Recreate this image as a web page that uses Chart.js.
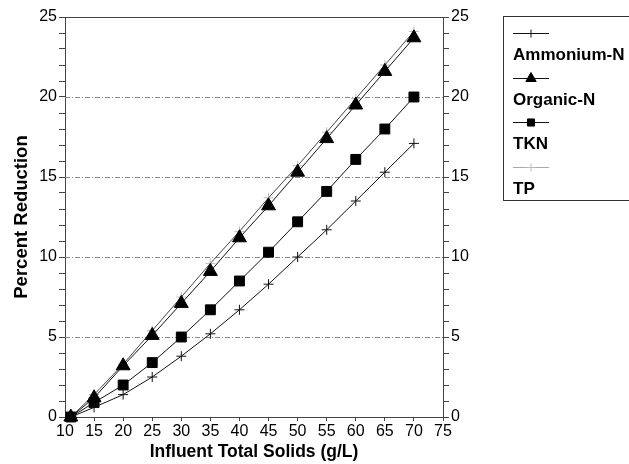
<!DOCTYPE html>
<html>
<head>
<meta charset="utf-8">
<script src="https://cdn.jsdelivr.net/npm/chart.js@4.4.0/dist/chart.umd.min.js"></script>
<style>
    html, body { margin: 0; padding: 0; background: #fff; }
    #wrap { width: 629px; height: 464px; position: relative; }
</style>
</head>
<body>
<div id="wrap"><canvas id="chart" width="629" height="464"></canvas></div>
<script>
// Data
const solids = [11, 15, 20, 25, 30, 35, 40, 45, 50, 55, 60, 65, 70];
const ammoniumN = [0, 0.6, 1.4, 2.5, 3.8, 5.2, 6.7, 8.3, 10.0, 11.7, 13.5, 15.3, 17.1];
const organicN = [0, 1.2, 3.2, 5.1, 7.1, 9.1, 11.2, 13.2, 15.3, 17.4, 19.5, 21.6, 23.7];
const tkn = [0, 0.9, 2.0, 3.4, 5.0, 6.7, 8.5, 10.3, 12.2, 14.1, 16.1, 18.0, 20.0];
const tp = [0, 1.4, 3.3, 5.4, 7.5, 9.6, 11.6, 13.7, 15.7, 17.8, 19.9, 22.0, 24.1];
const seriesNames = ['Ammonium-N', 'Organic-N', 'TKN', 'TP'];
const gridValues = [5, 10, 15, 20];

const FONT = '"Liberation Sans", Arial, Helvetica, sans-serif';

function toPoints(values) {
    return solids.map((x, i) => ({ x: x, y: values[i] }));
}

// Series styles
const series = [
    { data: ammoniumN, color: '#111', pointStyle: 'cross', radius: 5, markerColor: '#111', legendLine: '#111' },
    { data: organicN, color: '#111', pointStyle: 'triangle', radius: 8, markerColor: '#000', legendLine: '#111' },
    { data: tkn, color: '#111', pointStyle: 'rect', radius: 7, markerColor: '#000', legendLine: '#111' },
    { data: tp, color: '#444', pointStyle: 'cross', radius: 5, markerColor: '#bbb', legendLine: '#aaa' }
];

const datasets = series.map((s, i) => ({
    label: seriesNames[i],
    data: toPoints(s.data),
    borderColor: s.color,
    borderWidth: 1,
    backgroundColor: s.markerColor,
    pointBorderColor: s.markerColor,
    pointBackgroundColor: s.markerColor,
    pointStyle: s.pointStyle,
    pointRadius: s.radius,
    pointBorderWidth: 1,
    tension: 0,
    clip: false
}));

// dashed gridlines at 5,10,15,20 and the top border
const frame = {
    id: 'frame',
    beforeDatasetsDraw(chart) {
        const { ctx, chartArea, scales } = chart;
        ctx.save();
        ctx.strokeStyle = '#888';
        ctx.lineWidth = 1;
        ctx.setLineDash([5, 2, 1, 2]);
        gridValues.forEach(v => {
            const y = Math.round(scales.y.getPixelForValue(v)) + 0.5;
            ctx.beginPath();
            ctx.moveTo(chartArea.left, y);
            ctx.lineTo(chartArea.right, y);
            ctx.stroke();
        });
        ctx.setLineDash([]);
        ctx.strokeStyle = '#444';
        const top = Math.round(chartArea.top) + 0.5;
        ctx.beginPath();
        ctx.moveTo(chartArea.left, top);
        ctx.lineTo(chartArea.right, top);
        ctx.stroke();
        ctx.restore();
    }
};

// legend: sample line above each label, inside a box
const boxLegend = {
    id: 'boxLegend',
    afterDraw(chart) {
        const { ctx } = chart;
        ctx.save();
        ctx.strokeStyle = '#333';
        ctx.lineWidth = 1;
        ctx.strokeRect(503.5, 16.5, 130, 184);
        chart.data.datasets.forEach((ds, i) => {
            const ly = Math.round(33 + i * 44.7) + 0.5;
            ctx.strokeStyle = series[i].legendLine;
            ctx.beginPath();
            ctx.moveTo(513, ly);
            ctx.lineTo(549, ly);
            ctx.stroke();
            const opts = {
                pointStyle: ds.pointStyle,
                radius: ds.pointStyle === 'cross' ? 4 : ds.pointRadius - 2,
                borderWidth: 1,
                rotation: 0
            };
            ctx.strokeStyle = ds.pointBorderColor;
            ctx.fillStyle = ds.pointBackgroundColor;
            if (Chart.helpers && Chart.helpers.drawPoint) {
                Chart.helpers.drawPoint(ctx, opts, 531, ly);
            }
            ctx.fillStyle = '#000';
            ctx.font = 'bold 17px ' + FONT;
            ctx.textBaseline = 'middle';
            ctx.textAlign = 'left';
            ctx.fillText(ds.label, 513, ly + 22);
        });
        ctx.restore();
    }
};

const tickFont = { family: FONT, size: 16 };
const titleFont = { family: FONT, size: 17.5, weight: 'bold' };

const yTicks = {
    stepSize: 1,
    autoSkip: false,
    color: '#000',
    font: tickFont,
    padding: 2,
    callback: v => (v % 5 === 0 ? String(v) : '')
};

const ctx = document.getElementById('chart').getContext('2d');
const chart = new Chart(ctx, {
    type: 'line',
    data: { datasets: datasets },
    options: {
        responsive: false,
        animation: false,
        layout: { padding: { top: 17, left: 0, right: 0, bottom: 0 } },
        plugins: {
            legend: { display: false },
            tooltip: { enabled: false }
        },
        scales: {
            x: {
                type: 'linear',
                min: 10,
                max: 75,
                afterFit: s => { s.height = 47; },
                ticks: { stepSize: 5, color: '#000', font: tickFont, padding: 1, maxRotation: 0 },
                grid: { drawOnChartArea: false, tickLength: 4, tickColor: '#444' },
                border: { color: '#444', width: 1 },
                title: { display: true, text: 'Influent Total Solids (g/L)', color: '#000', font: titleFont, padding: { top: 0, bottom: 1 } }
            },
            y: {
                type: 'linear',
                position: 'left',
                min: 0,
                max: 25,
                afterFit: s => { s.width = 65; },
                ticks: yTicks,
                grid: { drawOnChartArea: false, tickLength: 6, tickColor: '#444' },
                border: { color: '#444', width: 1 },
                title: { display: true, text: 'Percent Reduction', color: '#000', font: { family: FONT, size: 18.5, weight: 'bold' }, padding: { top: 11, bottom: 0 } }
            },
            y2: {
                type: 'linear',
                position: 'right',
                min: 0,
                max: 25,
                afterFit: s => { s.width = 186; },
                ticks: yTicks,
                grid: { drawOnChartArea: false, tickLength: 6, tickColor: '#444' },
                border: { color: '#444', width: 1 }
            }
        }
    },
    plugins: [frame, boxLegend]
});
</script>
</body>
</html>
